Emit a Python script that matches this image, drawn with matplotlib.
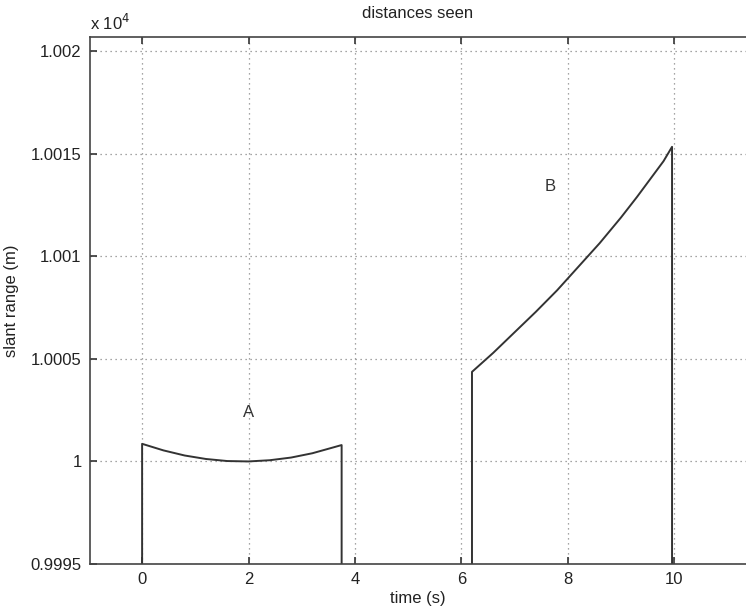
import matplotlib
matplotlib.use("Agg")
from matplotlib import pyplot as plt

plt.rcParams['font.family'] = ['Liberation Sans', 'DejaVu Sans']

# segment A (seen 0 .. 3.75 s)
t_a = [0, 0.4, 0.8, 1.2, 1.6, 2.0, 2.4, 2.8, 3.2, 3.6, 3.75]
r_a = [10000.86, 10000.54, 10000.29, 10000.12, 10000.02, 10000.0,
       10000.06, 10000.19, 10000.40, 10000.69, 10000.80]

# segment B (seen 6.2 .. 9.96 s)
t_b = [6.2, 6.6, 7.0, 7.4, 7.8, 8.2, 8.6, 9.0, 9.3, 9.6, 9.8, 9.96]
r_b = [10004.37, 10005.3, 10006.3, 10007.3, 10008.35, 10009.5,
       10010.65, 10011.9, 10012.9, 10013.95, 10014.65, 10015.35]

y_floor = 9995
y_ticks = [9995, 10000, 10005, 10010, 10015, 10020]
y_tick_labels = ['0.9995', '1', '1.0005', '1.001', '1.0015', '1.002']
x_ticks = [0, 2, 4, 6, 8, 10]

fig = plt.figure(figsize=(7.46, 6.09), dpi=100)
ax = fig.add_axes([0.1206, 0.074, 0.8794, 0.865])

line_col = '#333333'
ax.plot([t_a[0]] + t_a + [t_a[-1]], [y_floor] + r_a + [y_floor], color=line_col, lw=1.4)
ax.plot([t_b[0]] + t_b + [t_b[-1]], [y_floor] + r_b + [y_floor], color=line_col, lw=1.4)

ax.text(2.0, 10002.4, 'A', fontsize=12, ha='center', va='center', color='#333333')
ax.text(7.67, 10013.4, 'B', fontsize=12, ha='center', va='center', color='#333333')

ax.set_xlim(-0.98, 11.35)
ax.set_ylim(y_floor, 10020.7)
ax.set_xticks(x_ticks)
ax.set_yticks(y_ticks)
ax.set_yticklabels(y_tick_labels)
ax.tick_params(direction='in', length=5, width=1.2, top=True, right=False,
               labelsize=12, colors='#333333', labelcolor='#222222', pad=6)
ax.grid(True, linestyle=(0, (1, 3)), color='#888888', linewidth=0.9)
for side in ['left', 'bottom', 'top']:
    ax.spines[side].set_color('#444444')
    ax.spines[side].set_linewidth(1.2)
ax.spines['right'].set_visible(False)

ax.set_title('distances seen', fontsize=12, color='#222222', pad=14)
ax.set_xlabel('time (s)', fontsize=12, color='#222222', labelpad=3)
ax.set_ylabel('slant range (m)', fontsize=12, color='#222222', labelpad=8)
ax.text(0.0, 1.008, r'x 10$^4$', transform=ax.transAxes, fontsize=12,
        color='#222222', ha='left', va='bottom')

fig.savefig('out.png', dpi=100)
